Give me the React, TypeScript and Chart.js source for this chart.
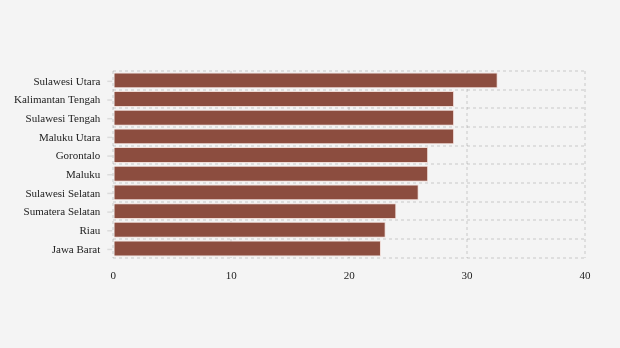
import React, { useEffect, useRef } from "react";
import { Chart, registerables } from "chart.js";

Chart.register(...registerables);

const provinces = [
  "Sulawesi Utara",
  "Kalimantan Tengah",
  "Sulawesi Tengah",
  "Maluku Utara",
  "Gorontalo",
  "Maluku",
  "Sulawesi Selatan",
  "Sumatera Selatan",
  "Riau",
  "Jawa Barat",
];
const values = [32.6, 28.9, 28.9, 28.9, 26.7, 26.7, 25.9, 24.0, 23.1, 22.7];
const xTicks = [0, 10, 20, 30, 40];

const FONT = "'Liberation Serif', 'Times New Roman', serif";

const yTickMarks = {
  id: "yTickMarks",
  afterDraw(chart: any) {
    const y = chart.scales.y;
    const ctx = chart.ctx;
    const left = chart.chartArea.left;
    ctx.save();
    ctx.strokeStyle = "rgba(0,0,0,0.1)";
    ctx.lineWidth = 1.5;
    for (let i = 0; i < provinces.length; i++) {
      const py = y.getPixelForValue(i) + 1;
      ctx.beginPath();
      ctx.moveTo(left - 6, py);
      ctx.lineTo(left - 1, py);
      ctx.stroke();
    }
    ctx.restore();
  },
};

export default function App() {
  const ref = useRef<HTMLCanvasElement>(null);
  useEffect(() => {
    if (!ref.current) return;
    const chart = new Chart(ref.current, {
      type: "bar",
      data: {
        labels: provinces,
        datasets: [
          {
            data: values,
            backgroundColor: "#8c4d3f",
            borderColor: "#efdcd7",
            borderWidth: 1,
            barPercentage: 0.85,
            categoryPercentage: 1,
          },
        ],
      },
      options: {
        indexAxis: "y",
        animation: false,
        responsive: false,
        maintainAspectRatio: false,
        layout: { padding: { top: 71, right: 35, bottom: 53, left: 1 } },
        plugins: { legend: { display: false }, tooltip: { enabled: false } },
        scales: {
          x: {
            z: 1,
            min: 0,
            max: 40,
            afterBuildTicks: (axis: any) => {
              axis.ticks = xTicks.map((v) => ({ value: v }));
            },
            grid: {
              color: "rgba(0,0,0,0.09)",
              drawTicks: false,
              lineWidth: 2,
            },
            border: { display: false, dash: [3, 3] },
            ticks: {
              padding: 12,
              color: "#222",
              font: { family: FONT, size: 11 },
            },
          },
          y: {
            z: 1,
            grid: {
              color: "rgba(0,0,0,0.09)",
              drawTicks: false,
              offset: true,
              lineWidth: 2,
            },
            border: { display: false, dash: [3, 3] },
            ticks: {
              padding: 13,
              labelOffset: 1.5,
              color: "#222",
              font: { family: FONT, size: 11 },
            },
          },
        },
      },
      plugins: [yTickMarks],
    } as any);
    return () => chart.destroy();
  }, []);
  return (
    <div
      style={{
        position: "absolute",
        left: 0,
        top: 0,
        width: 620,
        height: 348,
        background: "#f4f4f4",
      }}
    >
      <canvas ref={ref} width={620} height={348} />
    </div>
  );
}
